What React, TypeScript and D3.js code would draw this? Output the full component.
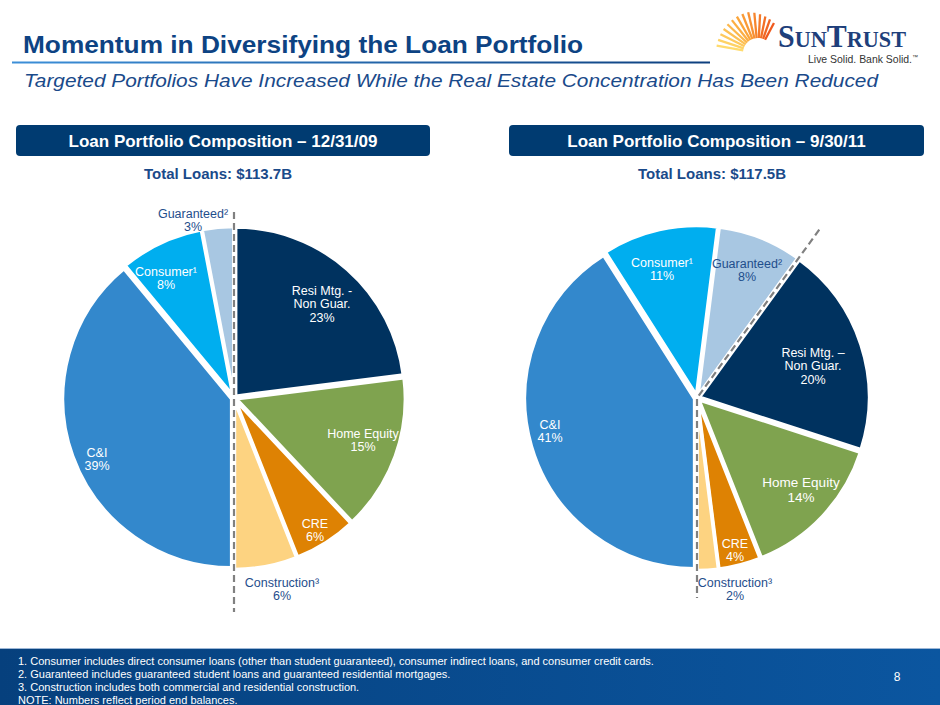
import React from "react";
import * as d3 from "d3";

// ---------- Data ----------
const categories = ["Resi Mtg. - Non Guar.", "Home Equity", "CRE", "Construction", "C&I", "Consumer", "Guaranteed"];
const values2009 = [23, 15, 6, 6, 39, 8, 3];
const values2011 = [20, 14, 4, 2, 41, 11, 8];
const realEstateCount = 4; // first four categories are real estate
const titles = ["Loan Portfolio Composition – 12/31/09", "Loan Portfolio Composition – 9/30/11"];
const totals = ["Total Loans: $113.7B", "Total Loans: $117.5B"];
const labelLines2009 = [["Resi Mtg. -", "Non Guar."], ["Home Equity"], ["CRE"], ["Construction³"], ["C&I"], ["Consumer¹"], ["Guaranteed²"]];
const labelLines2011 = [["Resi Mtg. –", "Non Guar."], ["Home Equity"], ["CRE"], ["Construction³"], ["C&I"], ["Consumer¹"], ["Guaranteed²"]];
const footnotes = [
  "1. Consumer includes direct consumer loans (other than student guaranteed), consumer indirect loans, and consumer credit cards.",
  "2. Guaranteed includes guaranteed student loans and guaranteed residential mortgages.",
  "3. Construction includes both commercial and residential construction.",
  "NOTE:  Numbers reflect period end balances.",
];
void categories;

// ---------- Styles / layout ----------
const colors = ["#00325F", "#7FA34F", "#DE8203", "#FDD381", "#3388CC", "#00AEEF", "#A8C7E2"];
const labelColors = ["#fff", "#fff", "#fff", "#1F4E8C", "#fff", "#fff", "#1F4E8C"];
const FONT = "'Liberation Sans', Arial, Helvetica, sans-serif";
const NAVY = "#003B71";
const TEXTBLUE = "#1A4A8A";

// label anchor offsets relative to pie center (middle of label block)
const labelPos2009: [number, number][] = [[88, -94], [129, 42], [81, 132], [48, 191], [-137, 61], [-68, -120], [-41, -178]];
const labelPos2011: [number, number][] = [[116, -32], [104, 92], [38, 152], [38, 191], [-147, 33], [-35, -129], [50, -128]];
const labelSize2011 = [12.5, 13.5, 12.5, 12.5, 12.5, 12.5, 12.5];

interface PieSpec {
  cx: number;
  cy: number;
  r: number;
  values: number[];
  lines: string[][];
  pos: [number, number][];
  sizes: number[];
  dashTop: number;
  dashBottom: number;
}

function Pie({ spec }: { spec: PieSpec }) {
  const { cx, cy, r, values } = spec;
  const reShare = d3.sum(values.slice(0, realEstateCount)) / d3.sum(values);
  const start = Math.PI - reShare * 2 * Math.PI;
  const pie = d3.pie<number>().sort(null).value((d) => d).startAngle(start).endAngle(start + 2 * Math.PI);
  const arcs = pie(values);
  const arc = d3.arc<d3.PieArcDatum<number>>().innerRadius(0).outerRadius(r);
  const explode = 2.5;
  const a0 = start;
  const a1 = Math.PI;
  const p0 = [Math.sin(a0) * (r + spec.dashTop), -Math.cos(a0) * (r + spec.dashTop)];
  const p1 = [Math.sin(a1) * (r + spec.dashBottom), -Math.cos(a1) * (r + spec.dashBottom)];
  return (
    <g transform={`translate(${cx},${cy})`}>
      {arcs.map((a, i) => {
        const mid = (a.startAngle + a.endAngle) / 2;
        const dx = Math.sin(mid) * explode;
        const dy = -Math.cos(mid) * explode;
        return (
          <path key={i} d={arc(a) || ""} fill={colors[i]} stroke="#fff" strokeWidth={3.5} strokeLinejoin="miter"
            transform={`translate(${dx},${dy})`} />
        );
      })}
      <path d={`M${p0[0]},${p0[1]} L0,0 L${p1[0]},${p1[1]}`} fill="none" stroke="#808080" strokeWidth={2.2} strokeDasharray="7,4" />
      {arcs.map((a, i) => {
        const lines = [...spec.lines[i], `${values[i]}%`];
        const [lx, ly] = spec.pos[i];
        const lh = spec.sizes[i] * 1.1;
        const top = ly - ((lines.length - 1) * lh) / 2;
        return (
          <text key={"t" + i} x={lx} y={top} textAnchor="middle" fontFamily={FONT} fontSize={spec.sizes[i]} fill={labelColors[i]}>
            {lines.map((l, j) => (
              <tspan key={j} x={lx} y={top + j * lh} dy="0.35em">{l}</tspan>
            ))}
          </text>
        );
      })}
    </g>
  );
}

function Logo() {
  const rays = d3.range(14);
  const cx = 758, cy = 53;
  const col = d3.scaleLinear<string>().domain([0, 6, 13]).range(["#FFDB6E", "#FBA53A", "#EF5A1E"]);
  const ang = d3.scaleLinear().domain([0, 13]).range([190, 298]);
  return (
    <g>
      {rays.map((i) => {
        const t = (ang(i) * Math.PI) / 180;
        const r0 = 15, r1 = 42 - Math.max(0, i - 8) * 1.6;
        return (
          <line key={"r" + i} x1={cx + Math.cos(t) * r0} y1={cy + Math.sin(t) * r0}
            x2={cx + Math.cos(t) * r1} y2={cy + Math.sin(t) * r1}
            stroke={col(i)} strokeWidth={2.3} strokeLinecap="butt" />
        );
      })}
      <text x={778} y={47} fontFamily="'Liberation Serif', 'DejaVu Serif', serif" fontWeight="bold" fill="#1E3F7B" textLength={128} lengthAdjust="spacingAndGlyphs">
        <tspan fontSize={31}>S</tspan><tspan fontSize={23}>UN</tspan><tspan fontSize={31}>T</tspan><tspan fontSize={23}>RUST</tspan>
      </text>
      <text x={808} y={63} fontFamily={FONT} fontSize={10.5} fill="#333" textLength={110} lengthAdjust="spacingAndGlyphs">
        Live Solid. Bank Solid.<tspan fontSize={6} dy={-4}>™</tspan>
      </text>
    </g>
  );
}

export default function App() {
  const W = 940, H = 705;
  const specs: PieSpec[] = [
    { cx: 234, cy: 398, r: 169, values: values2009, lines: labelLines2009, pos: labelPos2009, sizes: values2009.map(() => 12.5), dashTop: 17, dashBottom: 45 },
    { cx: 697, cy: 398, r: 170, values: values2011, lines: labelLines2011, pos: labelPos2011, sizes: labelSize2011, dashTop: 38, dashBottom: 30 },
  ];
  const boxes = [{ x: 16, w: 414 }, { x: 509, w: 415 }];
  return (
    <svg width={W} height={H} style={{ position: "absolute", left: 0, top: 0 }}>
      <defs>
        <linearGradient id="ul" x1="0" x2="1" y1="0" y2="0">
          <stop offset="0" stopColor="#3C8FD8" />
          <stop offset="1" stopColor="#0D3F7E" />
        </linearGradient>
        <linearGradient id="foot" x1="0" x2="1" y1="0" y2="0">
          <stop offset="0" stopColor="#06407D" />
          <stop offset="1" stopColor="#0B56A0" />
        </linearGradient>
      </defs>
      <rect width={W} height={H} fill="#fff" />
      <text x={23} y={53} fontFamily={FONT} fontWeight="bold" fontSize={24.5} fill="#0D4383" textLength={560} lengthAdjust="spacingAndGlyphs">
        Momentum in Diversifying the Loan Portfolio
      </text>
      <rect x={12} y={61.5} width={698} height={2} fill="url(#ul)" />
      <text x={24} y={87} fontFamily={FONT} fontStyle="italic" fontSize={19} fill={TEXTBLUE} textLength={854} lengthAdjust="spacingAndGlyphs">
        Targeted Portfolios Have Increased While the Real Estate Concentration Has Been Reduced
      </text>
      <Logo />
      {boxes.map((b, i) => (
        <g key={i}>
          <rect x={b.x} y={125} width={b.w} height={31} rx={4} fill={NAVY} />
          <text x={b.x + b.w / 2} y={146.5} textAnchor="middle" fontFamily={FONT} fontWeight="bold" fontSize={17} fill="#fff">
            {titles[i]}
          </text>
          <text x={i === 0 ? 218 : 712} y={179} textAnchor="middle" fontFamily={FONT} fontWeight="bold" fontSize={15} fill="#1A4A8A">
            {totals[i]}
          </text>
        </g>
      ))}
      {specs.map((s, i) => (
        <Pie key={i} spec={s} />
      ))}
      <rect x={0} y={648} width={W} height={H - 648} fill="url(#foot)" />
      <rect x={0} y={648} width={W} height={1} fill="#9DB7D6" />
      {footnotes.map((f, i) => (
        <text key={i} x={18} y={665 + i * 13} fontFamily={FONT} fontSize={11} fill="#fff">
          {f}
        </text>
      ))}
      <text x={897} y={681} textAnchor="middle" fontFamily={FONT} fontSize={12} fill="#fff">8</text>
    </svg>
  );
}
